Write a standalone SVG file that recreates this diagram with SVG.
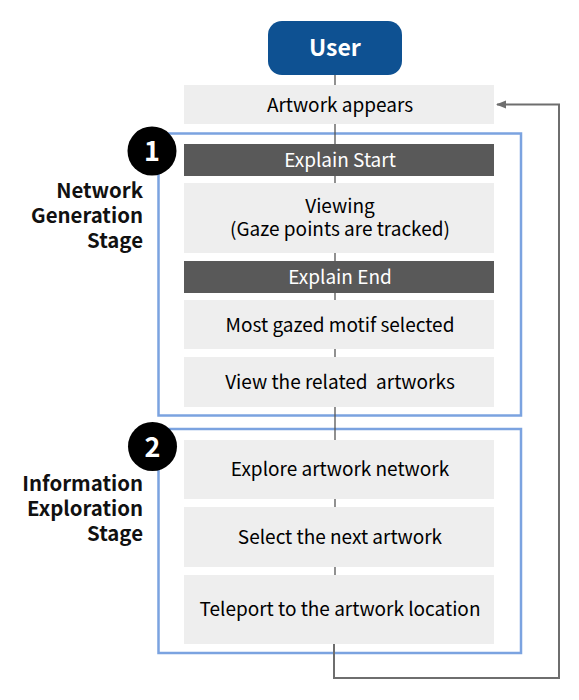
<svg xmlns="http://www.w3.org/2000/svg" width="579" height="700" viewBox="0 0 579 700">
<style>
text{font-family:"Noto Sans CJK KR","Noto Sans",sans-serif;}
.box{fill:#eeeeee;}
.dark{fill:#595959;}
.t{font-size:19px;fill:#000;text-anchor:middle;}
.tw{font-size:19px;fill:#fff;text-anchor:middle;}
.stage{fill:none;stroke:#7ba3e0;stroke-width:2.5;}
.lbl{font-size:20.4px;font-weight:bold;fill:#111;text-anchor:end;}
.num{font-size:27px;font-weight:bold;fill:#fff;text-anchor:middle;}
.c{stroke:#555;stroke-width:1.3;fill:none;}
.loop{stroke:#6e6e6e;stroke-width:2;fill:none;}
</style>
<defs>
<marker id="ah" viewBox="0 0 10 10" refX="9" refY="5" markerWidth="5" markerHeight="5" orient="auto-start-reverse" markerUnits="strokeWidth">
<path d="M0,1 L10,5 L0,9 z" fill="#6e6e6e"/>
</marker>
</defs>
<g id="stage1">
<rect class="stage" x="158.5" y="133.5" width="362.5" height="282"/>
<circle cx="152" cy="151" r="24.5" fill="#000"/>
<text class="num" x="152" y="161">1</text>
<text class="lbl" x="143" y="198">Network</text>
<text class="lbl" x="143" y="223">Generation</text>
<text class="lbl" x="143" y="248">Stage</text>
</g>
<g id="stage2">
<rect class="stage" x="158.5" y="429" width="362.5" height="224"/>
<circle cx="152.5" cy="446.5" r="24.5" fill="#000"/>
<text class="num" x="152.5" y="456.5">2</text>
<text class="lbl" x="143" y="491">Information</text>
<text class="lbl" x="143" y="516">Exploration</text>
<text class="lbl" x="143" y="541">Stage</text>
</g>
<g id="connectors">
<line class="c" x1="335" y1="75" x2="335" y2="85"/>
<line class="c" x1="335" y1="124" x2="335" y2="144"/>
<line class="c" x1="335" y1="176" x2="335" y2="183"/>
<line class="c" x1="335" y1="253" x2="335" y2="261"/>
<line class="c" x1="335" y1="293" x2="335" y2="300"/>
<line class="c" x1="335" y1="349" x2="335" y2="357"/>
<line class="c" x1="335" y1="407" x2="335" y2="440"/>
<line class="c" x1="335" y1="499" x2="335" y2="507"/>
<line class="c" x1="335" y1="567" x2="335" y2="575"/>
<polyline class="loop" points="334,644 334,678 559,678 559,104.5 497,104.5" marker-end="url(#ah)"/>
</g>
<g id="user">
<rect x="268" y="21" width="134" height="54" rx="14" fill="#0e5192"/>
<text x="335" y="56" font-size="23" font-weight="bold" fill="#fff" text-anchor="middle">User</text>
</g>
<g id="artwork-appears">
<rect class="box" x="184" y="85" width="310" height="39"/>
<text class="t" x="340" y="112">Artwork appears</text>
</g>
<g id="explain-start">
<rect class="dark" x="184" y="144" width="310" height="32"/>
<text class="tw" x="340" y="167">Explain Start</text>
</g>
<g id="viewing">
<rect class="box" x="184" y="183" width="310" height="70"/>
<text class="t" x="340" y="213">Viewing</text>
<text class="t" x="340" y="236">(Gaze points are tracked)</text>
</g>
<g id="explain-end">
<rect class="dark" x="184" y="261" width="310" height="32"/>
<text class="tw" x="340" y="284">Explain End</text>
</g>
<g id="most-gazed">
<rect class="box" x="184" y="300" width="310" height="49"/>
<text class="t" x="340" y="332">Most gazed motif selected</text>
</g>
<g id="view-related">
<rect class="box" x="184" y="357" width="310" height="50"/>
<text class="t" x="340" y="389" xml:space="preserve">View the related  artworks</text>
</g>
<g id="explore">
<rect class="box" x="184" y="440" width="310" height="59"/>
<text class="t" x="340" y="476">Explore artwork network</text>
</g>
<g id="select">
<rect class="box" x="184" y="507" width="310" height="60"/>
<text class="t" x="340" y="544">Select the next artwork</text>
</g>
<g id="teleport">
<rect class="box" x="184" y="575" width="310" height="69"/>
<text class="t" x="340" y="616">Teleport to the artwork location</text>
</g>
</svg>
